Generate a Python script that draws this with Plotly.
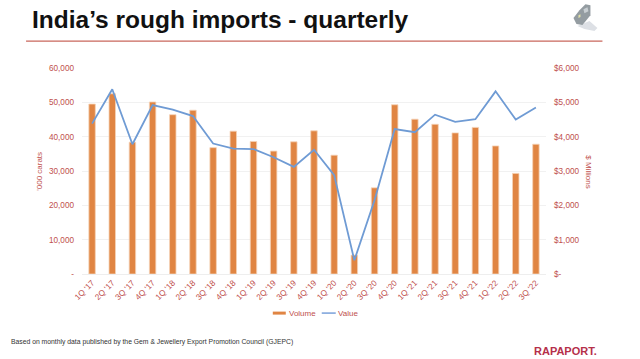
import plotly.graph_objects as go

categories = ["1Q '17","2Q '17","3Q '17","4Q '17","1Q '18","2Q '18","3Q '18","4Q '18","1Q '19","2Q '19","3Q '19","4Q '19","1Q '20","2Q '20","3Q '20","4Q '20","1Q '21","2Q '21","3Q '21","4Q '21","1Q '22","2Q '22","3Q '22"]
volume = [49500,52500,38400,50100,46400,47700,36800,41600,38600,35800,38500,41700,34600,5500,25100,49300,45100,43600,41100,42700,37300,29300,37800]
value = [4380,5380,3780,4920,4790,4600,3800,3650,3640,3400,3120,3620,2880,400,2150,4220,4130,4640,4430,4510,5320,4500,4850]
vol_ticks = [0,10000,20000,30000,40000,50000,60000]
vol_labels = ["-","10,000","20,000","30,000","40,000","50,000","60,000"]
val_ticks = [0,1000,2000,3000,4000,5000,6000]
val_labels = ["$-","$1,000","$2,000","$3,000","$4,000","$5,000","$6,000"]

RED = "#c0504d"
W, H = 640, 359
FAM = "Liberation Sans, Arial, sans-serif"
fnt = dict(family=FAM, size=8.2, color=RED)
L, R, T, B = 82, 546.5, 68, 274.5

def px(x): return (x-L)/(R-L)
def py(y): return (B-y)/(B-T)
def poly(pts):
    return " ".join(f"{'M' if i==0 else 'L'} {px(a)},{py(b)}" for i,(a,b) in enumerate(pts))+" Z"
def paper(**k): return dict(xref="paper", yref="paper", **k)
def hline(x0, x1, y, color, w): return paper(type="line", x0=px(x0), x1=px(x1), y0=py(y), y1=py(y), line=dict(color=color, width=w))
def note(text, x, y, xa, size, color, **k):
    return paper(text=text, x=px(x), y=py(y), xanchor=xa, yanchor="middle", showarrow=False, font=dict(family=FAM, size=size, color=color), **k)

fig = go.Figure()
fig.add_bar(x=categories, y=volume, name="Volume", marker=dict(color="#e08543", line=dict(color="#f5d3b8", width=0.8)), width=0.32)
fig.add_scatter(x=categories, y=value, name="Value", yaxis="y2", mode="lines", line=dict(color="#6f9bd4", width=1.8))

fig.update_layout(
    width=W, height=H, autosize=False, paper_bgcolor="white", plot_bgcolor="white",
    margin=dict(l=L, r=W-R, t=T, b=H-B, autoexpand=False), font=fnt, showlegend=False,
    xaxis=dict(type="category", tickangle=-45, tickfont=fnt, ticks="", showgrid=False, automargin=False,
               showline=True, linecolor="#eeeeee", linewidth=1, range=[-0.5, 22.5]),
    yaxis=dict(range=[0,60000], tickvals=vol_ticks, ticktext=vol_labels, gridcolor="#f1f1f1", gridwidth=1, zeroline=False, automargin=False,
               ticks="", ticklabelstandoff=7, tickfont=fnt),
    yaxis2=dict(range=[0,6000], tickvals=val_ticks, ticktext=val_labels, overlaying="y", side="right", showgrid=False, zeroline=False, automargin=False,
                ticks="", ticklabelstandoff=7, tickfont=fnt),
    shapes=[
        hline(26, 603, 41, "#c9675c", 1.3),
        paper(type="path", path=poly([(578,26),(590,21),(598,28),(595,31),(585,29)]), fillcolor="#dde0e5", line=dict(width=0)),
        paper(type="path", path=poly([(580,10),(586,4),(591,5),(591,15),(583,25),(577,24),(574,18)]), fillcolor="#949ca1", line=dict(width=0)),
        paper(type="path", path=poly([(579,15),(581,14),(581,17),(579,18)]), fillcolor="#e3e2a8", line=dict(width=0)),
        paper(type="path", path=poly([(584,9),(588,7),(589,11),(585,13)]), fillcolor="#c8ced2", line=dict(width=0)),
        hline(273, 286, 313.7, "#e08543", 3),
        hline(322, 336, 313.7, "#8fb0e0", 1.8),
    ],
    annotations=[
        note("Volume", 287, 313.7, "left", 8, RED),
        note("Value", 336, 313.7, "left", 8, RED),
        note("'000 carats", 40, 172, "center", 8, RED, textangle=-90),
        note("$ Millions", 589, 172, "center", 8, RED, textangle=90),
        note("<b>India’s rough imports - quarterly</b>", 29.5, 19.5, "left", 24.5, "#111111"),
        note("Based on monthly data published by the Gem & Jewellery Export Promotion Council (GJEPC)", 8.5, 343, "left", 6.8, "#333333"),
        note("<b>RAPAPORT.</b>", 599.5, 352, "right", 11, "#b5304a"),
    ],
)
fig.write_html("out.html", config={"displayModeBar": False}, post_script="document.body.style.margin='0';document.documentElement.style.overflow='hidden';")
